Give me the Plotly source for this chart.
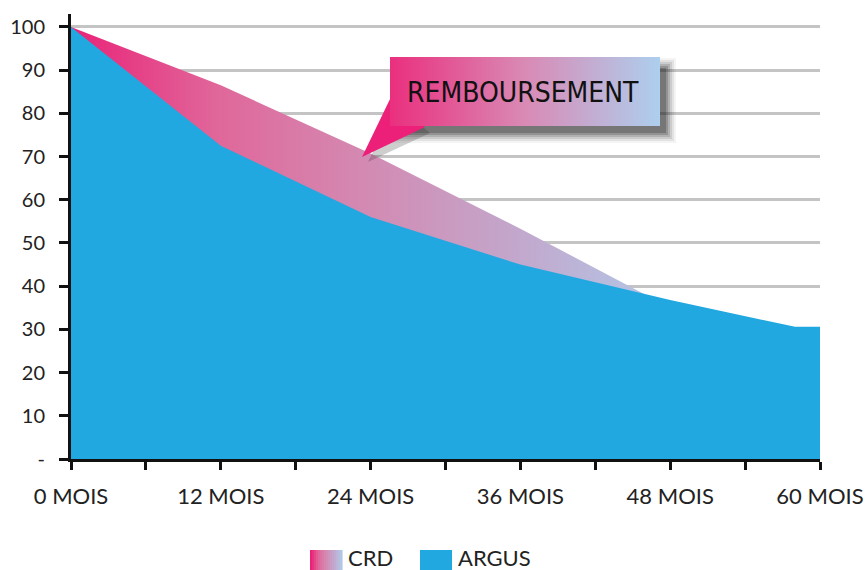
import plotly.graph_objects as go
import plotly.colors as pc

# ---- data ----
months_crd = [0, 12, 24, 36, 48, 60]
crd = [100, 86.5, 70.7, 53.3, 35.0, 0]
months_argus = [0, 12, 24, 36, 48, 58, 60]
argus = [100, 72.5, 56, 45, 36.8, 30.6, 30.6]

x_tickvals = list(range(0, 61, 6))
x_ticktext = ["0 MOIS", "", "12 MOIS", "", "24 MOIS", "", "36 MOIS", "", "48 MOIS", "", "60 MOIS"]
y_tickvals = list(range(0, 101, 10))
y_ticktext = ["-", "10", "20", "30", "40", "50", "60", "70", "80", "90", "100"]
legend_names = ["CRD", "ARGUS"]

PINK = "#EC1F79"
BLUE = "#22A8E0"
FONT = "Lato, 'Open Sans', sans-serif"
CRD_SCALE = [[0, "#EA2278"], [0.25, "#E0679A"], [0.5, "#D38AB2"], [0.75, "#C3A6CB"], [1, "#B3C6E6"]]

W, H = 865, 570
PL, PR, PT, PB = 71, 820, 14, 459   # plot area in screen pixels

fig = go.Figure()

fig.add_trace(go.Scatter(
    x=months_crd, y=crd, name=legend_names[0], mode="none", fill="tozeroy",
    fillgradient=dict(type="horizontal", start=0, stop=47, colorscale=CRD_SCALE),
    hoverinfo="skip", showlegend=False,
))
fig.add_trace(go.Scatter(
    x=months_argus, y=argus, name=legend_names[1], mode="none", fill="tozeroy",
    fillcolor=BLUE, hoverinfo="skip", showlegend=False,
))

# ---- callout decoration (overlay axes in screen pixel units) ----
def rect(x0, y0, x1, y1):
    return [x0, x1, x1, x0, x0], [y0, y0, y1, y1, y0]

for e, a in [(8, 0.05), (6, 0.08), (4, 0.11), (2, 0.15), (0, 0.2), (-2, 0.25)]:
    xs, ys = rect(398 - e, 66 - e, 668 + e, 135 + e)
    fig.add_trace(go.Scatter(x=xs, y=ys, xaxis="x2", yaxis="y2", mode="none", fill="toself",
                             fillcolor=f"rgba(30,30,30,{a})", showlegend=False, hoverinfo="skip"))
fig.add_trace(go.Scatter(x=[396, 430, 368, 396], y=[104, 133, 162, 104], xaxis="x2", yaxis="y2",
                         mode="none", fill="toself", fillcolor="rgba(30,30,30,0.22)",
                         showlegend=False, hoverinfo="skip"))
fig.add_trace(go.Scatter(x=[391, 425, 362, 391], y=[97, 127, 157, 97], xaxis="x2", yaxis="y2",
                         mode="none", fill="toself", fillcolor=PINK,
                         showlegend=False, hoverinfo="skip"))
xs, ys = rect(390, 57, 660, 126)
fig.add_trace(go.Scatter(x=xs, y=ys, xaxis="x2", yaxis="y2", mode="none", fill="toself",
                         fillgradient=dict(type="horizontal", start=390, stop=660,
                                           colorscale=[[0, "#EA2F7E"], [0.5, "#D98AB5"], [1, "#ADCFEE"]]),
                         showlegend=False, hoverinfo="skip"))

fig.add_annotation(x=523, y=92, xref="x2", yref="y2", text="REMBOURSEMENT", showarrow=False,
                   font=dict(family="'Liberation Sans Narrow', 'DejaVu Sans Condensed', sans-serif",
                             size=28, color="#111111"))

# ---- manual legend (screen pixels -> paper coords) ----
def px(x):
    return (x - PL) / (PR - PL)
def py(y):
    return (PB - y) / (PB - PT)

shapes = []
n = 16
for i in range(n):
    c = pc.sample_colorscale(CRD_SCALE, [i / (n - 1)])[0]
    x0 = 310 + i * 32 / n
    shapes.append(dict(type="rect", xref="paper", yref="paper", x0=px(x0), x1=px(x0 + 32 / n + 0.6),
                       y0=py(575), y1=py(550), fillcolor=c, line=dict(width=0), layer="above"))
shapes.append(dict(type="rect", xref="paper", yref="paper", x0=px(420), x1=px(452),
                   y0=py(575), y1=py(550), fillcolor=BLUE, line=dict(width=0), layer="above"))
fig.add_annotation(x=px(346), y=py(557), xref="paper", yref="paper", text=legend_names[0],
                   showarrow=False, xanchor="left", yanchor="middle",
                   font=dict(family=FONT, size=22, color="#222222"))
fig.add_annotation(x=px(456), y=py(557), xref="paper", yref="paper", text=legend_names[1],
                   showarrow=False, xanchor="left", yanchor="middle",
                   font=dict(family=FONT, size=22, color="#222222"))

fig.update_layout(
    width=W, height=H, autosize=False,
    margin=dict(l=PL, r=W - PR, t=PT, b=H - PB),
    paper_bgcolor="white", plot_bgcolor="white",
    font=dict(family=FONT, size=20, color="#222222"),
    showlegend=False,
    shapes=shapes,
    xaxis=dict(range=[0, 60], tickvals=x_tickvals, ticktext=x_ticktext, automargin=False,
               showline=True, linecolor="#111111", linewidth=3,
               ticks="outside", ticklen=8, tickwidth=3, tickcolor="#111111",
               showgrid=False, zeroline=False, ticklabelstandoff=8,
               ticklabeloverflow="allow",
               tickfont=dict(family=FONT, size=22, color="#222222")),
    yaxis=dict(range=[0, 103], tickvals=y_tickvals, ticktext=y_ticktext, automargin=False,
               showline=True, linecolor="#111111", linewidth=3,
               ticks="outside", ticklen=9, tickwidth=3, tickcolor="#111111",
               showgrid=True, gridcolor="#C4C4C4", gridwidth=2.5, zeroline=False,
               ticklabelstandoff=10,
               tickfont=dict(family=FONT, size=20, color="#222222")),
    xaxis2=dict(overlaying="x", range=[PL, PR], visible=False, anchor="y2", fixedrange=True,
                automargin=False),
    yaxis2=dict(overlaying="y", range=[PB, PT], visible=False, anchor="x2", fixedrange=True,
                automargin=False),
)

fig.write_html("out.html", config={"displayModeBar": False},
               post_script="document.body.style.margin='0px';document.body.style.overflow='hidden';")
